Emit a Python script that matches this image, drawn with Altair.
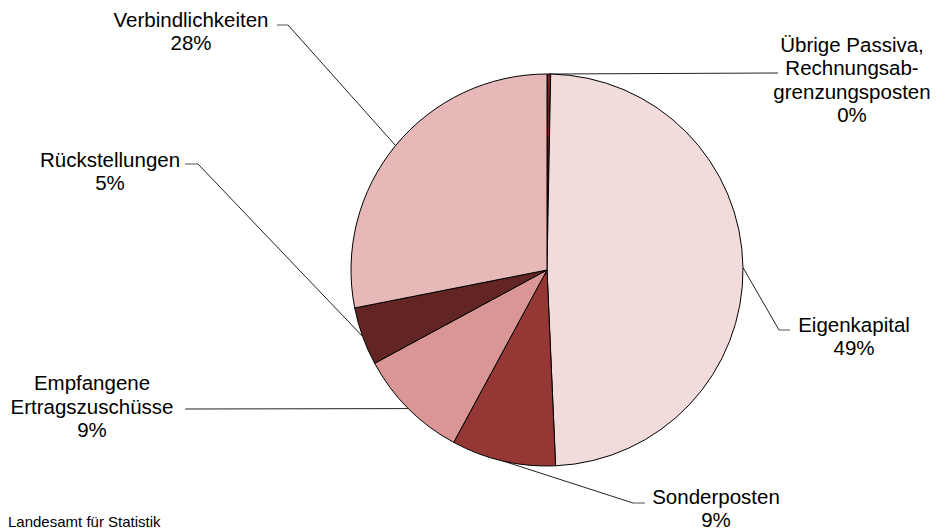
import altair as alt
import pandas as pd

# ---- data ----
names = [
    "Übrige Passiva,\nRechnungsab-\ngrenzungsposten",
    "Eigenkapital",
    "Sonderposten",
    "Empfangene\nErtragszuschüsse",
    "Rückstellungen",
    "Verbindlichkeiten",
]
shares = [0.3, 49.0, 8.6, 9.2, 4.8, 28.1]
source_note = "Landesamt für Statistik"

# ---- styles ----
colors = ["#7B1E1E", "#F2DCDB", "#953735", "#D99694", "#632523", "#E6B9B8"]

# ---- layout (page pixel coordinates) ----
W, H = 923, 522
CX, CY, R = 547, 270, 196
label_x = [852, 854, 716, 92, 110, 191]
label_y = [51.5, 331.5, 503.5, 390, 166.5, 26.5]
elbow_x = [778, 779, 633, 186, 198, 288]
elbow_y = [73, 330, 503, 409, 164, 25]
end_x = [778, 790, 645, 185, 185, 277]
end_y = [73, 330, 503, 409, 164, 25]

df = pd.DataFrame({
    "name": names, "share": shares, "idx": list(range(len(names))),
    "lx": label_x, "ly": label_y, "bx": elbow_x, "by": elbow_y,
    "ex": end_x, "ey": end_y,
})

xs = alt.Scale(domain=[8, 8 + W], range=[0, W], nice=False, zero=False)
ys = alt.Scale(domain=[8, 8 + H], range=[0, H], nice=False, zero=False)

base = (
    alt.Chart(df)
    .transform_joinaggregate(total="sum(share)")
    .transform_window(cum="sum(share)", sort=[alt.SortField("idx")], frame=[None, 0])
    .transform_calculate(
        mid="(datum.cum - datum.share / 2) / datum.total * 2 * PI",
        sx=f"{CX} + {R} * sin(datum.mid)",
        sy=f"{CY} - {R} * cos(datum.mid)",
        label="datum.name + '\\n' + format(datum.share, '.0f') + '%'",
    )
)

lead1 = base.mark_rule(color="#222222", strokeWidth=1).encode(
    x=alt.X("sx:Q", scale=xs, axis=None),
    y=alt.Y("sy:Q", scale=ys, axis=None),
    x2="bx:Q", y2="by:Q",
)
lead2 = base.mark_rule(color="#555555", strokeWidth=1).encode(
    x=alt.X("bx:Q", scale=xs, axis=None),
    y=alt.Y("by:Q", scale=ys, axis=None),
    x2="ex:Q", y2="ey:Q",
)

pie = alt.Chart(df).mark_arc(radius=R, stroke="black", strokeWidth=1).encode(
    theta=alt.Theta("share:Q", stack=True),
    order=alt.Order("idx:Q"),
    color=alt.Color("name:N", scale=alt.Scale(domain=names, range=colors), legend=None),
    x=alt.value(CX - 8),
    y=alt.value(CY - 8),
)

labels = base.mark_text(
    font="Liberation Sans", fontSize=20.5, lineHeight=23.5, lineBreak="\n",
    align="center", baseline="alphabetic", color="black",
).encode(
    x=alt.X("lx:Q", scale=xs, axis=None),
    y=alt.Y("ly:Q", scale=ys, axis=None),
    text="label:N",
)

note = alt.Chart(pd.DataFrame({"t": [source_note]})).mark_text(
    font="Liberation Sans", fontSize=15, align="left", baseline="alphabetic", color="black",
).encode(x=alt.value(0), y=alt.value(H - 3), text="t:N")

chart = (
    alt.layer(lead1, lead2, pie, labels, note)
    .properties(width=W, height=H, padding=0, autosize=alt.AutoSizeParams(type="none"))
    .configure_view(strokeWidth=0)
)

chart.save("out.html", embed_options={"renderer": "svg", "actions": False})
